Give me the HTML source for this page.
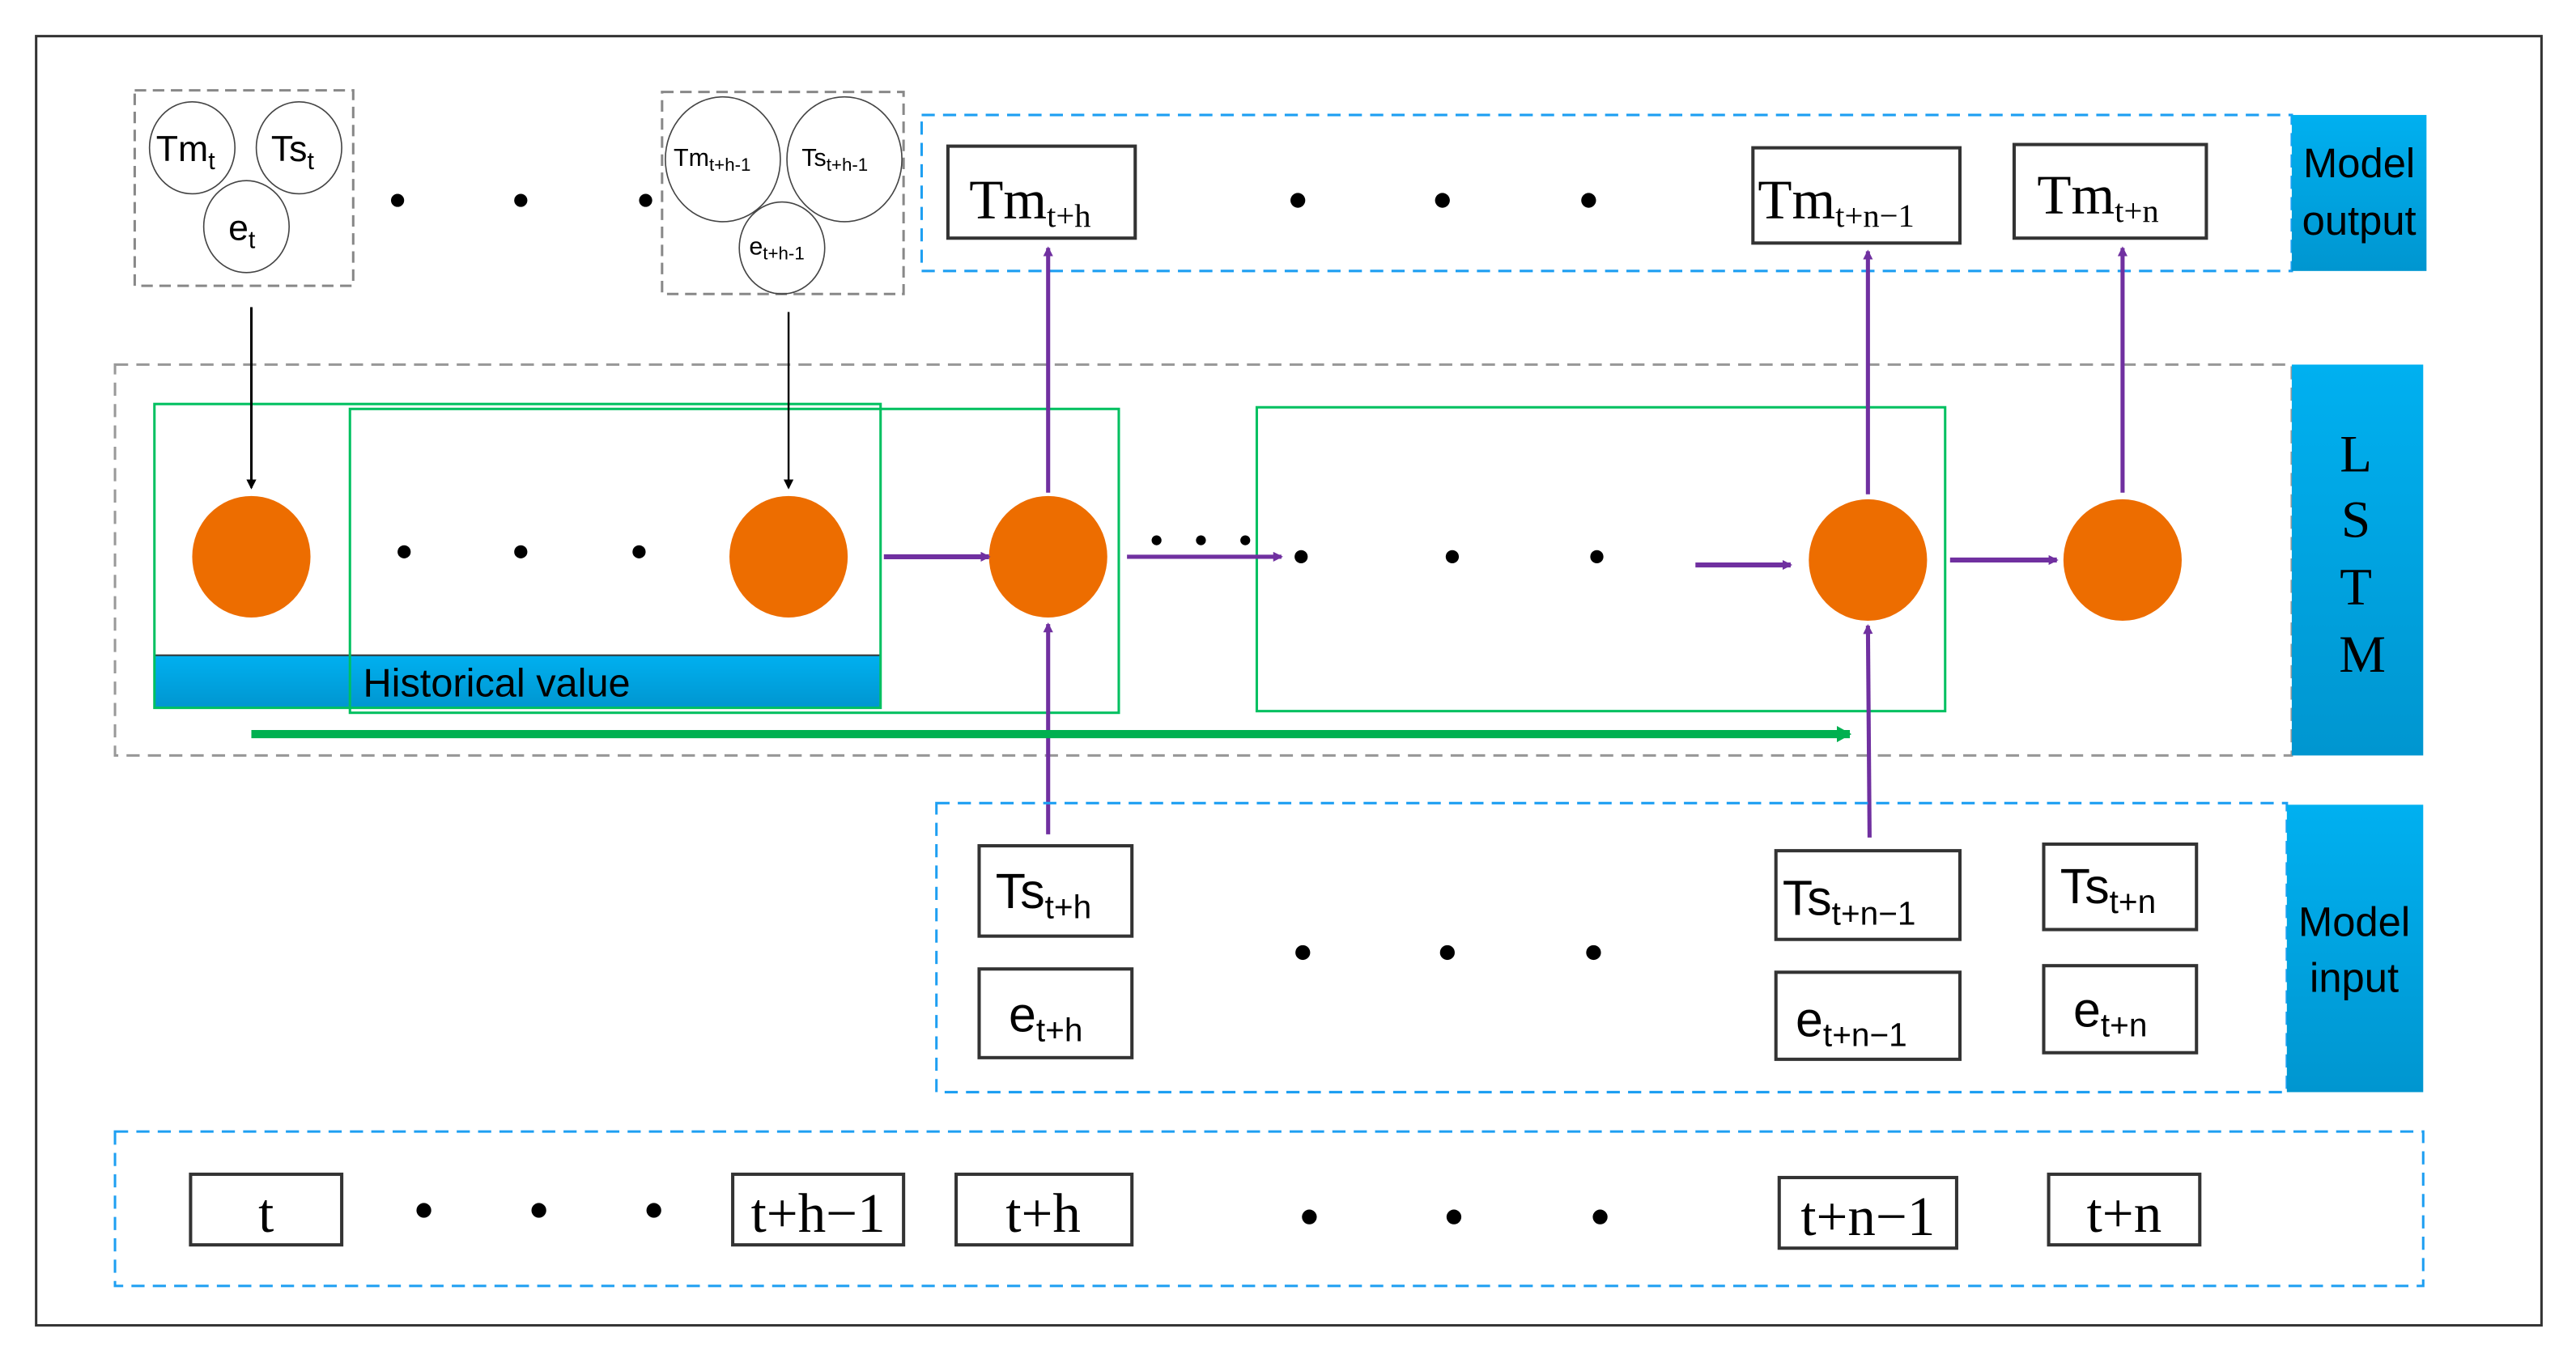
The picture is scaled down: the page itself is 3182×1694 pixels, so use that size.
<!DOCTYPE html>
<html><head><meta charset="utf-8"><style>
html,body{margin:0;padding:0;background:#fff;}
svg{display:block}
.s{font-family:"Liberation Sans",sans-serif;}
.r{font-family:"Liberation Serif",serif;}
</style></head><body>
<svg width="3182" height="1694" viewBox="0 0 1568 834.8" preserveAspectRatio="none" xmlns="http://www.w3.org/2000/svg">
<defs>
<marker id="ap" markerWidth="6" markerHeight="6" refX="5" refY="3" orient="auto" markerUnits="userSpaceOnUse"><path d="M0,0 L6,3 L0,6 z" fill="#7030a0"/></marker>
<marker id="ak" markerWidth="6" markerHeight="6" refX="5" refY="3" orient="auto" markerUnits="userSpaceOnUse"><path d="M0,0 L6,3 L0,6 z" fill="#000"/></marker>
<marker id="ag" markerWidth="10" markerHeight="10" refX="8" refY="5" orient="auto" markerUnits="userSpaceOnUse"><path d="M0,0 L9,5 L0,10 z" fill="#00b050"/></marker>
<linearGradient id="bg" x1="0" y1="0" x2="0" y2="1"><stop offset="0" stop-color="#00b0f0"/><stop offset="1" stop-color="#0096d0"/></linearGradient>
</defs>
<rect x="22" y="22" width="1525" height="785" fill="none" stroke="#333" stroke-width="1.5"/>

<!-- top input groups -->
<rect x="82" y="55" width="133" height="119" fill="none" stroke="#888" stroke-width="1.5" stroke-dasharray="7,4"/>
<ellipse cx="117" cy="90" rx="26" ry="28" fill="none" stroke="#444" stroke-width="0.8"/>
<ellipse cx="182" cy="90" rx="26" ry="28" fill="none" stroke="#444" stroke-width="0.8"/>
<ellipse cx="150" cy="138" rx="26" ry="28" fill="none" stroke="#444" stroke-width="0.8"/>
<text x="95" y="98" class="s" font-size="22">Tm<tspan font-size="15" dy="5">t</tspan></text>
<text x="165" y="98" class="s" font-size="22">Ts<tspan font-size="15" dy="5">t</tspan></text>
<text x="139" y="146" class="s" font-size="22">e<tspan font-size="15" dy="5">t</tspan></text>
<g fill="#000"><circle cx="242" cy="122" r="4"/><circle cx="317" cy="122" r="4"/><circle cx="393" cy="122" r="4"/></g>
<rect x="403" y="56" width="147" height="123" fill="none" stroke="#888" stroke-width="1.5" stroke-dasharray="7,4"/>
<ellipse cx="440" cy="97" rx="35" ry="38" fill="none" stroke="#444" stroke-width="0.8"/>
<ellipse cx="514" cy="97" rx="35" ry="38" fill="none" stroke="#444" stroke-width="0.8"/>
<ellipse cx="476" cy="151" rx="26" ry="28" fill="none" stroke="#444" stroke-width="0.8"/>
<text x="410" y="101" class="s" font-size="15">Tm<tspan font-size="11" dy="3">t+h-1</tspan></text>
<text x="488" y="101" class="s" font-size="15">Ts<tspan font-size="11" dy="3">t+h-1</tspan></text>
<text x="456" y="155" class="s" font-size="15">e<tspan font-size="11" dy="3">t+h-1</tspan></text>

<!-- model output -->
<rect x="561" y="70" width="834" height="95" fill="none" stroke="#1e9ff2" stroke-width="1.5" stroke-dasharray="8,5"/>
<rect x="1395" y="70" width="82" height="95" fill="url(#bg)"/>
<text x="1436" y="108" class="s" font-size="25" text-anchor="middle">Model</text>
<text x="1436" y="143" class="s" font-size="25" text-anchor="middle">output</text>
<g fill="#fff" stroke="#333" stroke-width="2">
<rect x="577" y="89" width="114" height="56"/>
<rect x="1067" y="90" width="126" height="58"/>
<rect x="1226" y="88" width="117" height="57"/>
</g>
<text x="590" y="133" class="r" font-size="34">Tm<tspan font-size="20" dy="5">t+h</tspan></text>
<text x="1070" y="133" class="r" font-size="34">Tm<tspan font-size="20" dy="5">t+n−1</tspan></text>
<text x="1240" y="130" class="r" font-size="34">Tm<tspan font-size="20" dy="5">t+n</tspan></text>
<g fill="#000"><circle cx="790" cy="122" r="4.5"/><circle cx="878" cy="122" r="4.5"/><circle cx="967" cy="122" r="4.5"/></g>

<!-- LSTM -->
<rect x="70" y="222" width="1325" height="238" fill="none" stroke="#999" stroke-width="1.5" stroke-dasharray="8,5"/>
<rect x="1395" y="222" width="80" height="238" fill="url(#bg)"/>
<g class="r" font-size="32" text-anchor="middle"><text x="1434" y="287">L</text><text x="1434" y="327">S</text><text x="1434" y="368">T</text><text x="1438" y="409">M</text></g>
<rect x="94" y="399" width="442" height="32" fill="url(#bg)"/>
<line x1="94" y1="399" x2="536" y2="399" stroke="#333" stroke-width="1"/>
<text x="221" y="424" class="s" font-size="24">Historical value</text>
<g fill="none" stroke="#00c060" stroke-width="1.5">
<rect x="94" y="246" width="442" height="185"/>
<rect x="213" y="249" width="468" height="185"/>
<rect x="765" y="248" width="419" height="185"/>
</g>
<g fill="#ed6d00">
<ellipse cx="153" cy="339" rx="36" ry="37"/><ellipse cx="480" cy="339" rx="36" ry="37"/>
<ellipse cx="638" cy="339" rx="36" ry="37"/><ellipse cx="1137" cy="341" rx="36" ry="37"/>
<ellipse cx="1292" cy="341" rx="36" ry="37"/>
</g>
<line x1="153" y1="187" x2="153" y2="297" stroke="#000" stroke-width="1.5" marker-end="url(#ak)"/>
<line x1="480" y1="190" x2="480" y2="297" stroke="#000" stroke-width="1.2" marker-end="url(#ak)"/>
<g fill="#000"><circle cx="246" cy="336" r="4"/><circle cx="317" cy="336" r="4"/><circle cx="389" cy="336" r="4"/>
<circle cx="792" cy="339" r="4"/><circle cx="884" cy="339" r="4"/><circle cx="972" cy="339" r="4"/>
<circle cx="704" cy="329" r="3"/><circle cx="731" cy="329" r="3"/><circle cx="758" cy="329" r="3"/></g>
<g stroke="#7030a0" stroke-width="3" fill="none">
<line x1="538" y1="339" x2="602" y2="339" marker-end="url(#ap)"/>
<line x1="686" y1="339" x2="780" y2="339" stroke-width="2.5" marker-end="url(#ap)"/>
<line x1="1032" y1="344" x2="1090" y2="344" marker-end="url(#ap)"/>
<line x1="1187" y1="341" x2="1252" y2="341" marker-end="url(#ap)"/>
</g>
<g stroke="#7030a0" stroke-width="2.5" fill="none">
<line x1="638" y1="300" x2="638" y2="151" marker-end="url(#ap)"/>
<line x1="638" y1="508" x2="638" y2="380" marker-end="url(#ap)"/>
<line x1="1137" y1="301" x2="1137" y2="153" marker-end="url(#ap)"/>
<line x1="1138" y1="510" x2="1137" y2="381" marker-end="url(#ap)"/>
<line x1="1292" y1="300" x2="1292" y2="151" marker-end="url(#ap)"/>
</g>
<line x1="153" y1="447" x2="1126" y2="447" stroke="#00b050" stroke-width="5" marker-end="url(#ag)"/>

<!-- model input -->
<rect x="570" y="489" width="822" height="176" fill="none" stroke="#1e9ff2" stroke-width="1.5" stroke-dasharray="8,5"/>
<rect x="1392" y="490" width="83" height="175" fill="url(#bg)"/>
<text x="1433" y="570" class="s" font-size="25" text-anchor="middle">Model</text>
<text x="1433" y="604" class="s" font-size="25" text-anchor="middle">input</text>
<g fill="#fff" stroke="#333" stroke-width="2">
<rect x="596" y="515" width="93" height="55"/><rect x="596" y="590" width="93" height="54"/>
<rect x="1081" y="518" width="112" height="54"/><rect x="1081" y="592" width="112" height="53"/>
<rect x="1244" y="514" width="93" height="52"/><rect x="1244" y="588" width="93" height="53"/>
</g>
<g class="s" font-size="30">
<text x="606" y="553">Ts<tspan font-size="20" dy="6">t+h</tspan></text>
<text x="614" y="628">e<tspan font-size="20" dy="6">t+h</tspan></text>
<text x="1085" y="557">Ts<tspan font-size="20" dy="6">t+n−1</tspan></text>
<text x="1093" y="631">e<tspan font-size="20" dy="6">t+n−1</tspan></text>
<text x="1254" y="550">Ts<tspan font-size="20" dy="6">t+n</tspan></text>
<text x="1262" y="625">e<tspan font-size="20" dy="6">t+n</tspan></text>
</g>
<g fill="#000"><circle cx="793" cy="580" r="4.5"/><circle cx="881" cy="580" r="4.5"/><circle cx="970" cy="580" r="4.5"/></g>

<!-- time row -->
<rect x="70" y="689" width="1405" height="94" fill="none" stroke="#1e9ff2" stroke-width="1.5" stroke-dasharray="8,5"/>
<g fill="#fff" stroke="#333" stroke-width="2">
<rect x="116" y="715" width="92" height="43"/><rect x="446" y="715" width="104" height="43"/>
<rect x="582" y="715" width="107" height="43"/><rect x="1083" y="717" width="108" height="43"/>
<rect x="1247" y="715" width="92" height="43"/>
</g>
<g class="r" font-size="34" text-anchor="middle">
<text x="162" y="750">t</text><text x="498" y="750">t+h−1</text><text x="635" y="750">t+h</text>
<text x="1137" y="752">t+n−1</text><text x="1293" y="750">t+n</text>
</g>
<g fill="#000"><circle cx="258" cy="737" r="4.5"/><circle cx="328" cy="737" r="4.5"/><circle cx="398" cy="737" r="4.5"/>
<circle cx="797" cy="741" r="4.5"/><circle cx="885" cy="741" r="4.5"/><circle cx="974" cy="741" r="4.5"/></g>
</svg>
</body></html>
